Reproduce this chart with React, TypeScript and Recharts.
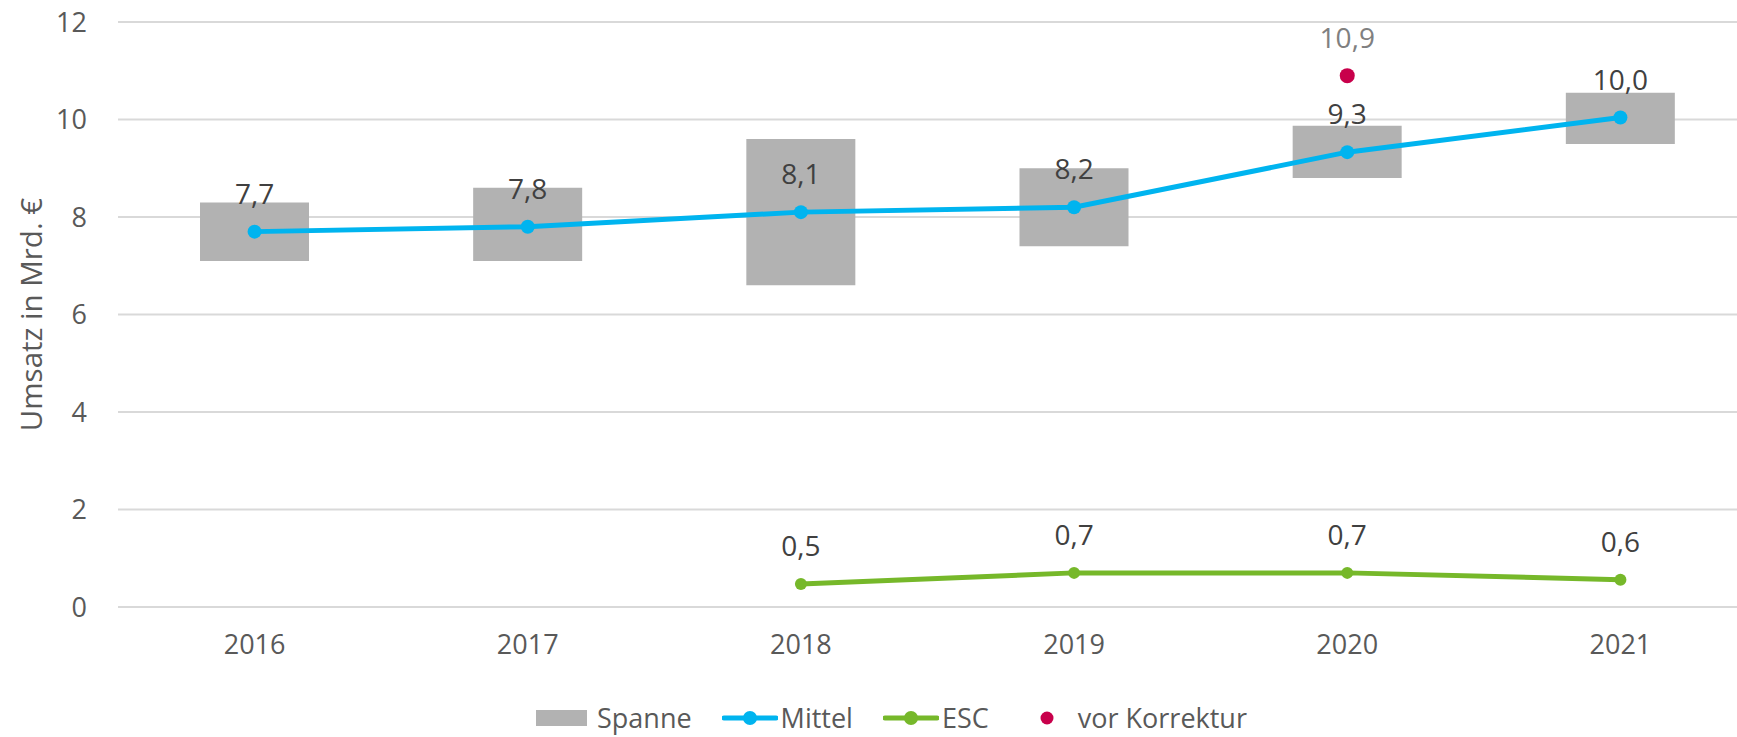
import { ComposedChart, Bar, Line, XAxis, YAxis, CartesianGrid, LabelList, Legend, Label } from 'recharts';

const years = ['2016', '2017', '2018', '2019', '2020', '2021'];
const spanneLow = [7.1, 7.1, 6.6, 7.4, 8.8, 9.5];
const spanneHigh = [8.3, 8.6, 9.6, 9.0, 9.87, 10.55];
const mittel = [7.7, 7.8, 8.1, 8.2, 9.33, 10.04];
const esc = [null, null, 0.47, 0.7, 0.7, 0.56];
const vorKorrektur = [null, null, null, null, 10.9, null];
const yTicks = [0, 2, 4, 6, 8, 10, 12];

const data = years.map((year, i) => ({
  year,
  spanne: [spanneLow[i], spanneHigh[i]],
  mittel: mittel[i],
  esc: esc[i],
  vorKorrektur: vorKorrektur[i],
}));

const FONT = "'Open Sans', sans-serif";
const GRAY = '#b2b2b2';
const BLUE = '#00b4ef';
const GREEN = '#76b82a';
const RED = '#c8004b';
const AXIS_TEXT = '#595959';

const fmt = (v: any) => (v == null ? '' : Number(v).toFixed(1).replace('.', ','));

const legendItems = [
  { name: 'Spanne', kind: 'box', color: GRAY },
  { name: 'Mittel', kind: 'line', color: BLUE },
  { name: 'ESC', kind: 'line', color: GREEN },
  { name: 'vor Korrektur', kind: 'dot', color: RED },
];

const renderLegend = () => (
  <div style={{ display: 'flex', alignItems: 'center', height: 40, lineHeight: '40px', fontFamily: FONT, fontSize: 27, color: AXIS_TEXT, whiteSpace: 'nowrap' }}>
    {legendItems.map((it) => (
      <div key={it.name} style={{ display: 'flex', alignItems: 'center', marginRight: 30 }}>
        <svg width={56} height={20} style={{ marginRight: it.kind === 'box' ? 5 : 3 }}>
          {it.kind === 'box' && <rect x={0} y={2} width={51} height={16} fill={it.color} />}
          {it.kind === 'line' && (
            <>
              <line x1={2} y1={10} x2={54} y2={10} stroke={it.color} strokeWidth={5} strokeLinecap="round" />
              <circle cx={28} cy={10} r={7} fill={it.color} />
            </>
          )}
          {it.kind === 'dot' && <circle cx={28} cy={10} r={6.5} fill={it.color} />}
        </svg>
        <span>{it.name}</span>
      </div>
    ))}
  </div>
);

export default function App() {
  return (
    <div style={{ position: 'absolute', left: 0, top: 0, width: 1737, height: 737, overflow: 'hidden', background: '#fff' }}>
      <ComposedChart width={1760} height={737} data={data} margin={{ top: 22, right: 3, bottom: 70, left: 0 }}>
        <CartesianGrid vertical={false} stroke="#d9d9d9" strokeWidth={2} />
        <XAxis
          dataKey="year"
          axisLine={false}
          tickLine={false}
          tickSize={0}
          tickMargin={28}
          height={60}
          tick={{ fill: AXIS_TEXT, fontSize: 27, fontFamily: FONT }}
        />
        <YAxis
          domain={[0, 12]}
          ticks={yTicks}
          width={118}
          axisLine={false}
          tickLine={false}
          tickSize={0}
          tickMargin={31}
          tick={{ fill: AXIS_TEXT, fontSize: 27, fontFamily: FONT }}
        >
          <Label
            content={({ viewBox }: any) => {
              const cy = viewBox.y + viewBox.height / 2;
              return (
                <text
                  x={30}
                  y={cy}
                  transform={`rotate(-90 30 ${cy})`}
                  textAnchor="middle"
                  dominantBaseline="central"
                  fill={AXIS_TEXT}
                  fontSize={29.5}
                  fontFamily={FONT}
                >
                  Umsatz in Mrd. €
                </text>
              );
            }}
          />
        </YAxis>
        <Legend
          layout="horizontal"
          verticalAlign="middle"
          align="center"
          wrapperStyle={{ top: 698, left: 536, width: 'auto', height: 40 }}
          content={renderLegend}
        />
        <Bar dataKey="spanne" fill={GRAY} barSize={109} isAnimationActive={false} />
        <Line
          dataKey="mittel"
          stroke={BLUE}
          strokeWidth={5}
          dot={{ r: 7, fill: BLUE, stroke: BLUE, strokeWidth: 0 }}
          activeDot={false}
          isAnimationActive={false}
        >
          <LabelList dataKey="mittel" position="top" offset={28} formatter={fmt} fill="#404040" fontSize={28} fontFamily={FONT} />
        </Line>
        <Line
          dataKey="esc"
          stroke={GREEN}
          strokeWidth={5}
          dot={{ r: 6, fill: GREEN, stroke: GREEN, strokeWidth: 0 }}
          activeDot={false}
          isAnimationActive={false}
        >
          <LabelList dataKey="esc" position="top" offset={28} formatter={fmt} fill="#404040" fontSize={28} fontFamily={FONT} />
        </Line>
        <Line
          dataKey="vorKorrektur"
          stroke="none"
          dot={{ r: 7.5, fill: RED, stroke: RED, strokeWidth: 0 }}
          activeDot={false}
          isAnimationActive={false}
        >
          <LabelList dataKey="vorKorrektur" position="top" offset={28} formatter={fmt} fill="#808080" fontSize={28} fontFamily={FONT} />
        </Line>
      </ComposedChart>
    </div>
  );
}
